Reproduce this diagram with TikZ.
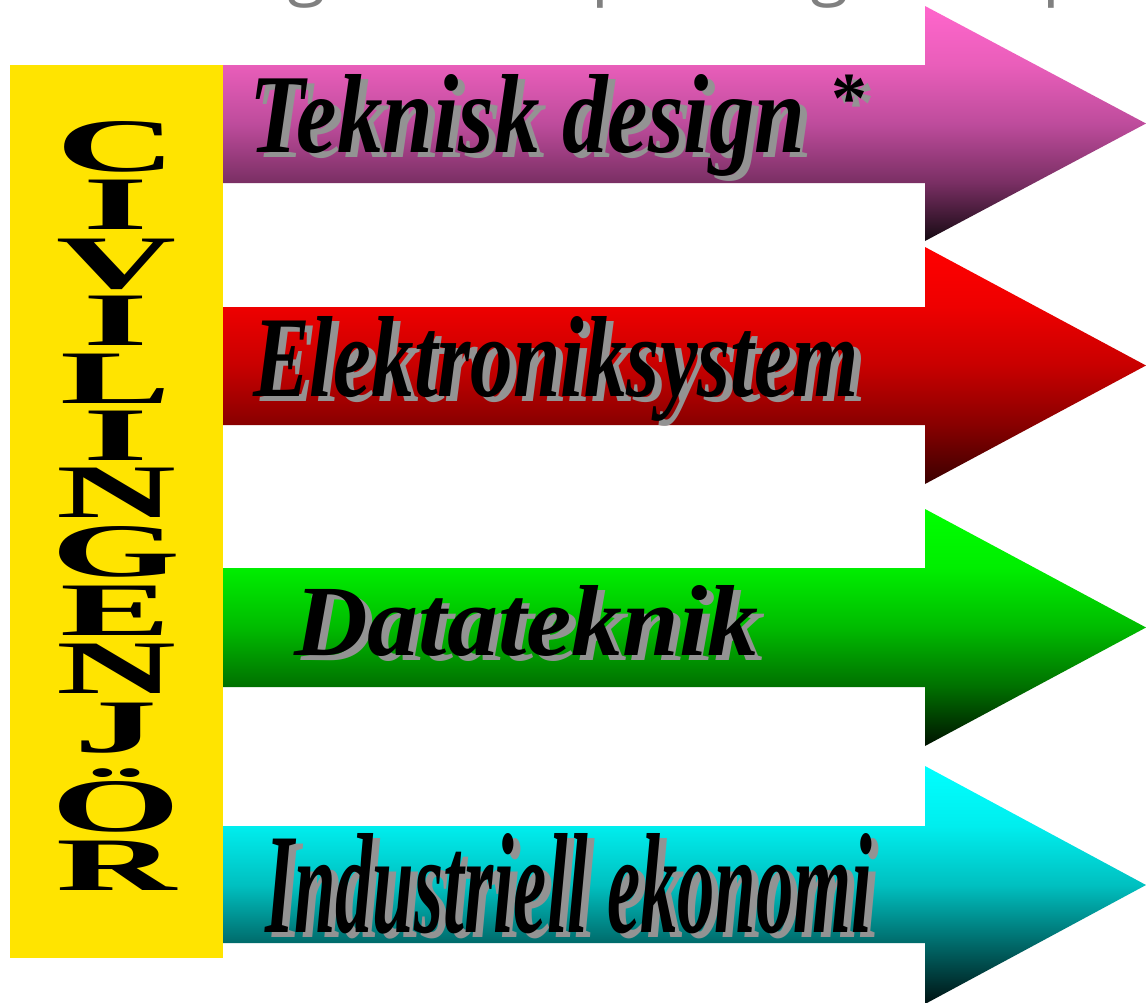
\documentclass[tikz,border=0pt]{standalone}
\usepackage{fontspec}
\setmainfont{Liberation Serif}
\newfontfamily\topfont{Open Sans}
\usepackage{graphicx}
\definecolor{cyellow}{HTML}{FFE400}
\definecolor{ctopgray}{HTML}{808080}
\definecolor{cshadow}{HTML}{939393}
% pink
\definecolor{pkA}{HTML}{FF66CC}\definecolor{pkB}{HTML}{E95EBA}\definecolor{pkC}{HTML}{BE4C9C}
\definecolor{pkD}{HTML}{7A2F64}\definecolor{pkE}{HTML}{160A12}
% red
\definecolor{rdA}{HTML}{FF0000}\definecolor{rdB}{HTML}{EE0000}\definecolor{rdC}{HTML}{C80000}
\definecolor{rdD}{HTML}{880000}\definecolor{rdE}{HTML}{3A0000}
% green
\definecolor{gnA}{HTML}{00FF00}\definecolor{gnB}{HTML}{00EE00}\definecolor{gnC}{HTML}{00BB00}
\definecolor{gnD}{HTML}{007000}\definecolor{gnE}{HTML}{001200}
% cyan
\definecolor{cyA}{HTML}{00FFFF}\definecolor{cyB}{HTML}{00EEEE}\definecolor{cyC}{HTML}{00C0C0}
\definecolor{cyD}{HTML}{006868}\definecolor{cyE}{HTML}{001212}
\pgfdeclareverticalshading{pinkshade}{100bp}{color(0bp)=(pkE); color(25bp)=(pkE); color(37.5bp)=(pkD); color(50bp)=(pkC); color(62.5bp)=(pkB); color(75bp)=(pkA); color(100bp)=(pkA)}
\pgfdeclareverticalshading{redshade}{100bp}{color(0bp)=(rdE); color(25bp)=(rdE); color(37.5bp)=(rdD); color(50bp)=(rdC); color(62.5bp)=(rdB); color(75bp)=(rdA); color(100bp)=(rdA)}
\pgfdeclareverticalshading{greenshade}{100bp}{color(0bp)=(gnE); color(25bp)=(gnE); color(37.5bp)=(gnD); color(50bp)=(gnC); color(62.5bp)=(gnB); color(75bp)=(gnA); color(100bp)=(gnA)}
\pgfdeclareverticalshading{cyanshade}{100bp}{color(0bp)=(cyE); color(25bp)=(cyE); color(37.5bp)=(cyD); color(50bp)=(cyC); color(62.5bp)=(cyB); color(75bp)=(cyA); color(100bp)=(cyA)}
\newcommand\fatarrow[5]{% shading, shaft top, shaft bottom, head top, head bottom
  \shade[shading=#1] (223,#2) -- (925,#2) -- (925,#4) -- (1146,{(#4+#5)/2}) -- (925,#5) -- (925,#3) -- (223,#3) -- cycle;}
\newcommand\lbltxt[3]{\resizebox{#1pt}{#2pt}{\bfseries\itshape #3}}
\newcommand\designlbl{\lbltxt{556}{78}{Teknisk design}\hspace{26pt}\raisebox{30pt}{\fontsize{72}{72}\selectfont\bfseries *}}
\tikzset{
  vlet/.style={anchor=base, inner sep=0pt, font=\fontsize{75.5}{80}\selectfont\bfseries},
  lbl/.style={anchor=base west, inner sep=0pt, text=black},
  lblshadow/.style={anchor=base west, inner sep=0pt, text=cshadow},
  toptxt/.style={anchor=base, inner sep=0pt, text=ctopgray, font=\topfont\fontsize{70}{80}\selectfont}
}
\begin{document}
\begin{tikzpicture}[x=1pt,y=-1pt]
\useasboundingbox (0,0) rectangle (1146,1002);
\fill[white] (0,0) rectangle (1146,1002);
% top text (only descenders visible)
\node[toptxt] (tg1) at (307,-9) {g};
\node[toptxt] (tp1) at (613,-9) {p};
\node[toptxt] (tg2) at (830,-9) {g};
\node[toptxt] (tp2) at (1064,-9) {p};
% yellow bar
\fill[cyellow] (10,65) rectangle (223,958);
% arrows
\fatarrow{pinkshade}{65}{183}{6}{241}
\fatarrow{redshade}{307}{425}{247}{484}
\fatarrow{greenshade}{568}{687}{509}{746}
\fatarrow{cyanshade}{826}{943}{766}{1004}
% vertical word
\foreach \ch/\yy [count=\i] in {C/171, I/229, V/288, I/345, L/403, I/460, N/517, G/576, E/635, N/693, J/752, Ö/831, R/890}
  \node[vlet] (v\i) at (116,\yy) {\scalebox{2.2}[1]{\ch}};
% labels
\node[lblshadow] (s1) at (256,157) {\designlbl};
\node[lbl] (t1) at (249,152) {\designlbl};
\node[lblshadow] (s2) at (260,401) {\lbltxt{605}{80}{Elektroniksystem}};
\node[lbl] (t2) at (253,396) {\lbltxt{605}{80}{Elektroniksystem}};
\node[lblshadow] (s3) at (301,660) {\lbltxt{464}{70}{Datateknik}};
\node[lbl] (t3) at (294,655) {\lbltxt{464}{70}{Datateknik}};
\node[lblshadow] (s4) at (272,937) {\lbltxt{607}{99}{Industriell ekonomi}};
\node[lbl] (t4) at (265,932) {\lbltxt{607}{99}{Industriell ekonomi}};
\end{tikzpicture}
\end{document}
